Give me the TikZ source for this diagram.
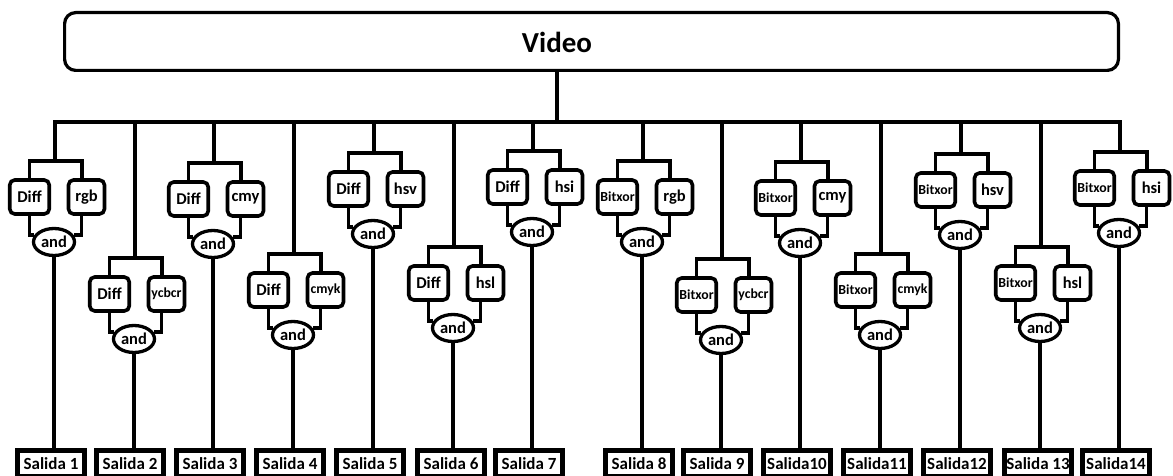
\documentclass[tikz,border=0pt]{standalone}
\usepackage{fontspec}
\setmainfont{Carlito}
\usetikzlibrary{shapes.geometric}
\begin{document}
\begin{tikzpicture}[x=1pt,y=-1pt,
  wire/.style={line width=3.6pt, line join=miter},
  bar/.style={line width=3.4pt, line cap=rect},
  videobox/.style={draw, line width=3.2pt, rounded corners=11pt, inner sep=0pt,
    minimum width=1053.8pt, minimum height=57.8pt},
  videotxt/.style={font=\bfseries\fontsize{29}{30}\selectfont, inner sep=0pt},
  opbox/.style={draw, fill=white, line width=3.6pt, rounded corners=5pt,
    inner sep=0pt, minimum height=34pt},
  lbox/.style={opbox, minimum width=39.5pt},
  rbox/.style={opbox, minimum width=36pt},
  tbig/.style={font=\bfseries\fontsize{16.5}{17}\selectfont},
  tsmall/.style={font=\bfseries\fontsize{13.8}{15}\selectfont},
  gate/.style={draw, fill=white, ellipse, line width=3.3pt, inner sep=0pt,
    minimum width=41pt, minimum height=27pt, font=\bfseries\fontsize{16.5}{17}\selectfont},
  outbox/.style={draw, fill=white, line width=4.5pt, inner sep=0pt,
    minimum width=67pt, minimum height=26pt, anchor=north,
    font=\bfseries\fontsize{17}{18}\selectfont}]
\useasboundingbox (0,0) rectangle (1173,476);

% source
\node[videobox] (video) at (591.5,41.5) {};
\node[videotxt] (vlabel) at (557,42) {Video};
\coordinate (hub) at (557,122);
\coordinate (barl) at (55,122);
\coordinate (barr) at (1120,122);
\draw[wire] (vlabel |- video.south) -- (hub);
\draw[bar] (barl) -- (barr);

% outputs
\foreach \i/\cx/\txt in {1/51/Salida 1, 2/130/Salida 2, 3/210/Salida 3,
    4/290/Salida 4, 5/370/Salida 5, 6/451/Salida 6, 7/529/Salida 7,
    8/639/Salida 8, 9/717/Salida 9, 10/797/Salida10, 11/877/Salida11,
    12/957/Salida12, 13/1038/Salida 13, 14/1116/Salida14}
  \node[outbox] (s\i) at (\cx,448) {\txt};

% one filter chain per output
\foreach \i/\X/\B/\lt/\rt/\ls/\rs in {
    1/55/161/Diff/rgb/tbig/tbig,
    2/135/258/Diff/ycbcr/tbig/tsmall,
    3/214/163/Diff/cmy/tbig/tbig,
    4/294/254/Diff/cmyk/tbig/tsmall,
    5/374/153/Diff/hsv/tbig/tbig,
    6/454/247/Diff/hsl/tbig/tbig,
    7/533/151/Diff/hsi/tbig/tbig,
    8/643/161/Bitxor/rgb/tsmall/tbig,
    9/722/259/Bitxor/ycbcr/tsmall/tsmall,
    10/801/162/Bitxor/cmy/tsmall/tbig,
    11/881/254/Bitxor/cmyk/tsmall/tsmall,
    12/961/154/Bitxor/hsv/tsmall/tbig,
    13/1041/247/Bitxor/hsl/tsmall/tbig,
    14/1120/152/Bitxor/hsi/tsmall/tbig}{
  \coordinate (t\i) at (\X,122);
  \coordinate (k\i) at (\X,\B);
  \node[lbox,\ls] (l\i) at (\X-25.5,\B+36) {\lt};
  \node[rbox,\rs] (r\i) at (\X+31.5,\B+36) {\rt};
  \node[gate] (a\i) at (\X-1,\B+81) {and};
  \draw[wire] (t\i) -- (k\i);
  \draw[wire] (l\i.north) |- (k\i) -| ([xshift=-4.5pt]r\i.north);
  \draw[wire] (l\i.south) |- (a\i.160);
  \draw[wire] ([xshift=-5pt]r\i.south) |- (a\i.20);
  \draw[wire] (a\i.south) -- (a\i.south |- s\i.north);
}
\end{tikzpicture}
\end{document}
